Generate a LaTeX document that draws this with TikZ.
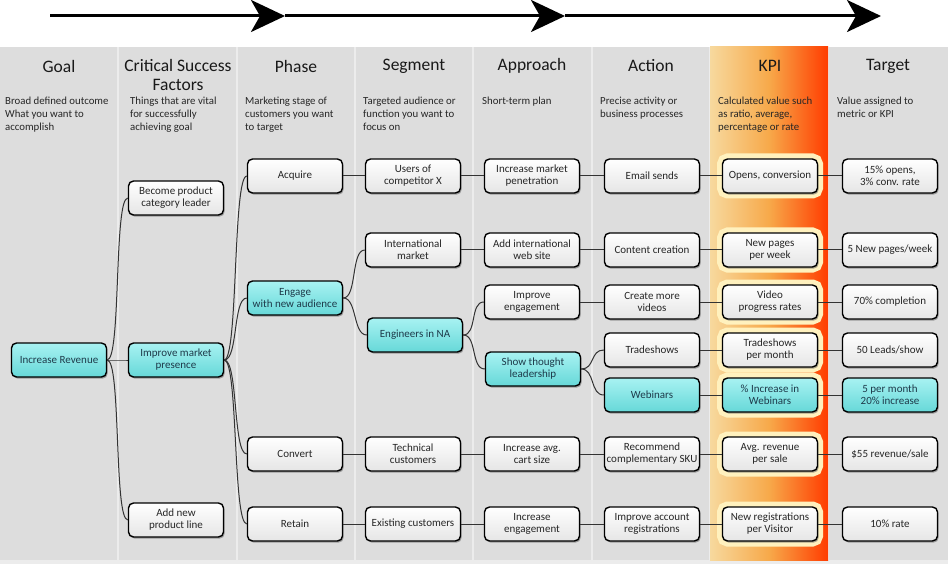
\documentclass[tikz,border=0pt]{standalone}
\usepackage{fontspec}
\setmainfont{Carlito}
\usetikzlibrary{shadows,arrows.meta}
\definecolor{colbg}{HTML}{DDDDDD}
\definecolor{colsep}{HTML}{ECECEC}
\definecolor{hitop}{HTML}{A8F2F2}
\definecolor{hibot}{HTML}{66D8D8}
\definecolor{hitext}{HTML}{1E3A4A}
\definecolor{halo}{HTML}{FFF1BE}
\definecolor{kpil}{HTML}{F7D99E}
\definecolor{kpim}{HTML}{F7A94A}
\definecolor{kpir}{HTML}{FF3C00}
\definecolor{conncol}{HTML}{333333}
\begin{document}
\begin{tikzpicture}[x=1pt,y=-1pt,
  col/.style={fill=colbg, draw=none},
  head/.style={font=\fontsize{17.5}{19}\selectfont, text=black!90, align=center},
  desc/.style={font=\fontsize{10.8}{13}\selectfont, text=black!85, align=left, anchor=north west, inner sep=0pt},
  box/.style={draw=black, line width=1.4pt, rounded corners=5pt, minimum width=95pt, minimum height=34pt,
    inner sep=1pt, align=center, font=\fontsize{11}{12}\selectfont, text=black!85,
    top color=white, bottom color=black!10,
    drop shadow={shadow xshift=1.2pt, shadow yshift=-1.6pt, fill=black!65}},
  hi/.style={top color=hitop, bottom color=hibot, text=hitext},
  kpi/.style={preaction={draw=halo, fill=halo, line width=11pt, rounded corners=7pt}},
  conn/.style={draw=conncol, line width=1pt},
  bigarrow/.style={line width=3pt, -{Stealth[length=34pt,width=32pt,inset=9pt]}}
]
\useasboundingbox (0,0) rectangle (948,564);
\fill[white] (0,0) rectangle (948,564);
% columns
\fill[colsep] (0,47) rectangle (948,564);
\foreach \a/\b in {0/117,119/236,238/354,356/472,474/591,593/709,829/948}{
  \fill[col] (\a,47) rectangle (\b,560);
}
\shade[left color=kpil, right color=kpir, middle color=kpim] (710,47) rectangle (828,560);
% top arrow
\coordinate (a0) at (50,16);
\coordinate (a1) at (285,16);
\coordinate (a2) at (565,16);
\coordinate (a3) at (881,16);
\draw[bigarrow] (a0) -- (a1);
\draw[bigarrow] (a1) -- (a2);
\draw[bigarrow] (a2) -- (a3);
% headers
\node[head] (hg) at (59,66) {Goal};
\node[head] (hc) at (178,75) {Critical Success\\Factors};
\node[head] (hp) at (296,66) {Phase};
\node[head] (hs) at (414,66) {Segment};
\node[head] (ha) at (532,66) {Approach};
\node[head] (hac) at (651,66) {Action};
\node[head] (hk) at (770,66) {KPI};
\node[head] (ht) at (888,66) {Target};
% descriptions
\node[desc] (dg) at (5,97) {Broad defined outcome\\What you want to\\accomplish};
\node[desc] (dc) at (130,97) {Things that are vital\\for successfully\\achieving goal};
\node[desc] (dp) at (245,97) {Marketing stage of\\customers you want\\to target};
\node[desc] (ds) at (363,97) {Targeted audience or\\function you want to\\focus on};
\node[desc] (da) at (482,97) {Short-term plan};
\node[desc] (dac) at (600,97) {Precise activity or\\business processes};
\node[desc] (dk) at (718,97) {Calculated value such\\as ratio, average,\\percentage or rate};
\node[desc] (dt) at (837,97) {Value assigned to\\metric or KPI};
% nodes
\node[box,hi] (goal) at (59,360) {Increase Revenue};
\node[box] (csf1) at (176,198) {Become product\\category leader};
\node[box,hi] (csf2) at (176,360) {Improve market\\presence};
\node[box] (csf3) at (176,520) {Add new\\product line};
\node[box] (ph1) at (295,176) {Acquire};
\node[box,hi] (ph2) at (295,298) {Engage\\with new audience};
\node[box] (ph3) at (295,454) {Convert};
\node[box] (ph4) at (295,524) {Retain};
\node[box] (seg1) at (413,176) {Users of\\competitor X};
\node[box] (seg2) at (413,250) {International\\market};
\node[box,hi] (seg3) at (415,335) {Engineers in NA};
\node[box] (seg4) at (413,454) {Technical\\customers};
\node[box] (seg5) at (413,524) {Existing customers};
\node[box] (ap1) at (532,176) {Increase market\\penetration};
\node[box] (ap2) at (532,250) {Add international\\web site};
\node[box] (ap3) at (532,302) {Improve\\engagement};
\node[box,hi] (ap4) at (533,369) {Show thought\\leadership};
\node[box] (ap5) at (532,454) {Increase avg.\\cart size};
\node[box] (ap6) at (532,524) {Increase\\engagement};
\node[box] (ac1) at (652,176) {Email sends};
\node[box] (ac2) at (652,250) {Content creation};
\node[box] (ac3) at (652,302) {Create more\\videos};
\node[box] (ac4) at (652,350) {Tradeshows};
\node[box,hi] (ac5) at (652,395) {Webinars};
\node[box] (ac6) at (652,454) {Recommend\\complementary SKU};
\node[box] (ac7) at (652,524) {Improve account\\registrations};
\node[kpi,box] (k1) at (770,176) {Opens, conversion};
\node[kpi,box] (k2) at (770,250) {New pages\\per week};
\node[kpi,box] (k3) at (770,302) {Video\\progress rates};
\node[kpi,box] (k4) at (770,350) {Tradeshows\\per month};
\node[kpi,box,hi] (k5) at (770,395) {\% Increase in\\Webinars};
\node[kpi,box] (k6) at (770,454) {Avg. revenue\\per sale};
\node[kpi,box] (k7) at (770,524) {New registrations\\per Visitor};
\node[box] (t1) at (890,176) {15\% opens,\\3\% conv. rate};
\node[box] (t2) at (890,250) {5 New pages/week};
\node[box] (t3) at (890,302) {70\% completion};
\node[box] (t4) at (890,350) {50 Leads/show};
\node[box,hi] (t5) at (890,395) {5 per month\\20\% increase};
\node[box] (t6) at (890,454) {\$55 revenue/sale};
\node[box] (t7) at (890,524) {10\% rate};
% straight connectors
\foreach \p/\q in {ph1/seg1,seg1/ap1,ap1/ac1,ac1/k1,k1/t1,
  seg2/ap2,ap2/ac2,ac2/k2,k2/t2,
  ap3/ac3,ac3/k3,k3/t3,
  ac4/k4,k4/t4,
  ac5/k5,k5/t5,
  ph3/seg4,seg4/ap5,ap5/ac6,ac6/k6,k6/t6,
  ph4/seg5,seg5/ap6,ap6/ac7,ac7/k7,k7/t7}{
  \draw[conn] (\p.east) -- (\q.west);
}
% curved connectors
\foreach \p/\q in {goal/csf1,goal/csf2,goal/csf3,
  csf2/ph1,csf2/ph2,csf2/ph3,csf2/ph4,
  ph2/seg2,ph2/seg3,
  seg3/ap3,seg3/ap4,
  ap4/ac4,ap4/ac5}{
  \draw[conn] (\p.east) .. controls +(14,0) and +(-14,0) .. (\q.west);
}
\end{tikzpicture}
\end{document}
